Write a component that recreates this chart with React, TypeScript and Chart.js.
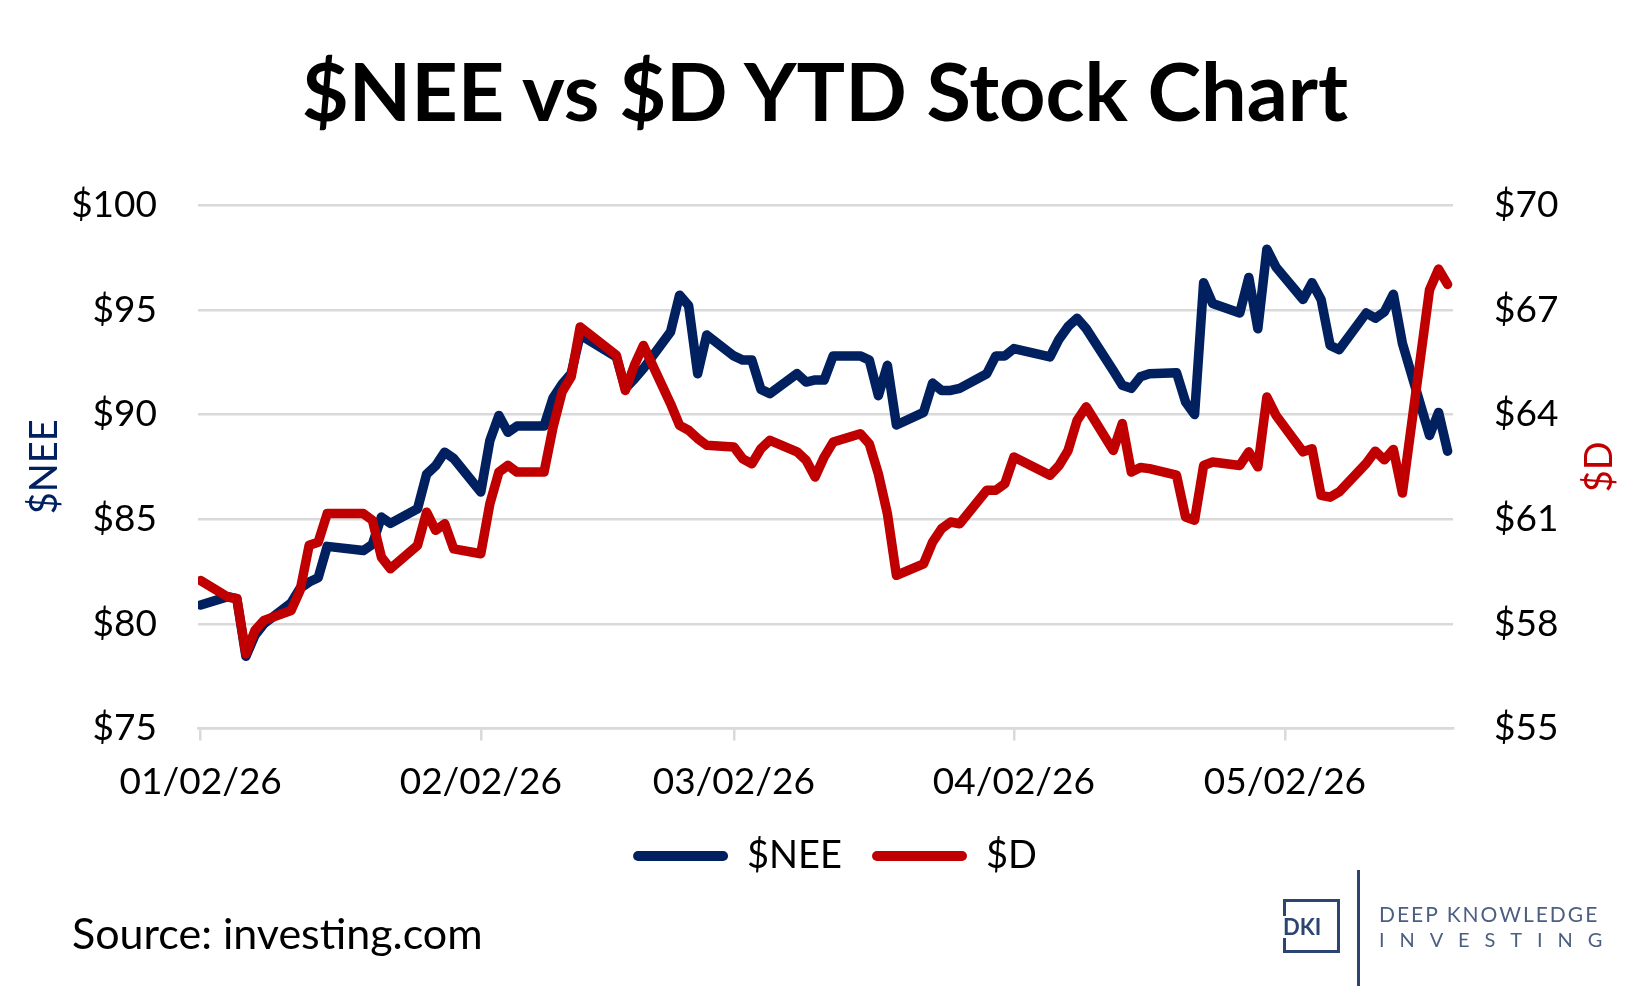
import { useEffect, useRef } from 'react'
import { Chart, registerables } from 'chart.js'
import type { Plugin } from 'chart.js'

Chart.register(...registerables)

const NAVY = '#002060'
const RED = '#C00000'
const GRID = '#D9D9D9'
const FONT = 'Lato, "Open Sans", sans-serif'

// trading days, 2026 YTD
const dates = [
  '2026-01-02', '2026-01-05', '2026-01-06', '2026-01-07', '2026-01-08', '2026-01-09',
  '2026-01-12', '2026-01-13', '2026-01-14', '2026-01-15', '2026-01-16',
  '2026-01-20', '2026-01-21', '2026-01-22', '2026-01-23',
  '2026-01-26', '2026-01-27', '2026-01-28', '2026-01-29', '2026-01-30',
  '2026-02-02', '2026-02-03', '2026-02-04', '2026-02-05', '2026-02-06',
  '2026-02-09', '2026-02-10', '2026-02-11', '2026-02-12', '2026-02-13',
  '2026-02-17', '2026-02-18', '2026-02-19', '2026-02-20',
  '2026-02-23', '2026-02-24', '2026-02-25', '2026-02-26', '2026-02-27',
  '2026-03-02', '2026-03-03', '2026-03-04', '2026-03-05', '2026-03-06',
  '2026-03-09', '2026-03-10', '2026-03-11', '2026-03-12', '2026-03-13',
  '2026-03-16', '2026-03-17', '2026-03-18', '2026-03-19', '2026-03-20',
  '2026-03-23', '2026-03-24', '2026-03-25', '2026-03-26', '2026-03-27',
  '2026-03-30', '2026-03-31', '2026-04-01', '2026-04-02',
  '2026-04-06', '2026-04-07', '2026-04-08', '2026-04-09', '2026-04-10',
  '2026-04-13', '2026-04-14', '2026-04-15', '2026-04-16', '2026-04-17',
  '2026-04-20', '2026-04-21', '2026-04-22', '2026-04-23', '2026-04-24',
  '2026-04-27', '2026-04-28', '2026-04-29', '2026-04-30', '2026-05-01',
  '2026-05-04', '2026-05-05', '2026-05-06', '2026-05-07', '2026-05-08',
  '2026-05-11', '2026-05-12', '2026-05-13', '2026-05-14', '2026-05-15',
  '2026-05-18', '2026-05-19', '2026-05-20'
]

const neeClose = [
  80.9, 81.3, 81.2, 78.45, 79.45, 80.0,
  81.0, 81.7, 82.0, 82.2, 83.7,
  83.5, 83.8, 85.1, 84.8,
  85.5, 87.15, 87.55, 88.2, 87.9,
  86.3, 88.75, 89.95, 89.15, 89.45,
  89.45, 90.8, 91.45, 91.95, 93.8,
  92.75, 91.25, 91.7, 92.2,
  93.95, 95.7, 95.2, 91.95, 93.8,
  92.8, 92.6, 92.6, 91.2, 91.0,
  91.95, 91.55, 91.65, 91.65, 92.8,
  92.8, 92.6, 90.9, 92.35, 89.5,
  90.1, 91.5, 91.15, 91.15, 91.25,
  91.95, 92.8, 92.8, 93.15,
  92.75, 93.6, 94.2, 94.6, 94.1,
  92.1, 91.4, 91.25, 91.8, 91.95,
  92.0, 90.6, 90.0, 96.3, 95.3,
  94.85, 96.55, 94.1, 97.9, 97.05,
  95.5, 96.3, 95.5, 93.3, 93.1,
  94.85, 94.6, 94.9, 95.75, 93.4,
  89.0, 90.1, 88.25
]

const dClose = [
  59.24, 58.77, 58.72, 57.14, 57.81, 58.1,
  58.38, 58.96, 60.25, 60.34, 61.16,
  61.16, 60.97, 59.91, 59.58,
  60.25, 61.2, 60.68, 60.87, 60.15,
  60.01, 61.44, 62.35, 62.54, 62.35,
  62.35, 63.64, 64.65, 65.08, 66.51,
  65.7, 64.69, 65.41, 65.98,
  64.31, 63.69, 63.55, 63.31, 63.12,
  63.07, 62.73, 62.59, 63.02, 63.26,
  62.93, 62.69, 62.21, 62.78, 63.21,
  63.45, 63.16, 62.3, 61.16, 59.39,
  59.72, 60.34, 60.73, 60.92, 60.87,
  61.83, 61.83, 62.02, 62.78,
  62.26, 62.54, 62.97, 63.83, 64.22,
  62.97, 63.74, 62.35, 62.48, 62.45,
  62.26, 61.06, 60.97, 62.54, 62.64,
  62.54, 62.93, 62.5, 64.5, 63.98,
  62.93, 63.02, 61.68, 61.63, 61.78,
  62.6, 62.95, 62.7, 63.0, 61.75,
  67.57, 68.17, 67.73
]

const tickDates = ['2026-01-02', '2026-02-02', '2026-03-02', '2026-04-02', '2026-05-02']
const tickLabels = ['01/02/26', '02/02/26', '03/02/26', '04/02/26', '05/02/26']

const neeTicks = [75, 80, 85, 90, 95, 100]
const dTicks = [55, 58, 61, 64, 67, 70]

const DAY_MS = 86400000
const startMs = Date.parse(dates[0])
const dayOf = (d: string) => (Date.parse(d) - startMs) / DAY_MS

// Excel-style right axis title reads bottom to top, Chart.js would rotate it the other way
const rightTitle: Plugin<'line'> = {
  id: 'rightTitle',
  afterDraw(chart) {
    const s = chart.scales.y1
    const { ctx, chartArea } = chart
    ctx.save()
    ctx.translate(s.right - 50, (chartArea.top + chartArea.bottom) / 2)
    ctx.rotate(-Math.PI / 2)
    ctx.font = `38px ${FONT}`
    ctx.fillStyle = RED
    ctx.textAlign = 'center'
    ctx.textBaseline = 'middle'
    ctx.fillText('$D', 0, 0)
    ctx.restore()
  }
}

function StockChart() {
  const canvasRef = useRef<HTMLCanvasElement>(null)

  useEffect(() => {
    const canvas = canvasRef.current
    if (!canvas) return

    const tickFont = { family: FONT, size: 37 }
    const last = dayOf(dates[dates.length - 1])

    const chart = new Chart(canvas, {
      type: 'line',
      data: {
        datasets: [
          {
            label: '$NEE',
            data: dates.map((d, i) => ({ x: dayOf(d), y: neeClose[i] })),
            borderColor: NAVY,
            backgroundColor: NAVY,
            borderWidth: 9.5,
            pointRadius: 0,
            tension: 0,
            borderJoinStyle: 'round',
            borderCapStyle: 'round',
            yAxisID: 'y',
            order: 2
          },
          {
            label: '$D',
            data: dates.map((d, i) => ({ x: dayOf(d), y: dClose[i] })),
            borderColor: RED,
            backgroundColor: RED,
            borderWidth: 9.5,
            pointRadius: 0,
            tension: 0,
            borderJoinStyle: 'round',
            borderCapStyle: 'round',
            yAxisID: 'y1',
            order: 1
          }
        ]
      },
      options: {
        responsive: true,
        maintainAspectRatio: false,
        animation: false,
        events: [],
        // top of the plot comes from the y tick padding, so only the bottom is set here
        layout: { padding: { top: 20, left: 20, right: 0, bottom: 27 } },
        plugins: {
          tooltip: { enabled: false },
          legend: {
            position: 'bottom',
            labels: {
              color: '#000',
              font: { family: FONT, size: 38 },
              boxWidth: 95,
              boxHeight: 10,
              padding: 30,
              useBorderRadius: true,
              borderRadius: 5,
              sort: (a, b) => a.datasetIndex - b.datasetIndex,
              generateLabels: (c) =>
                Chart.defaults.plugins.legend.labels.generateLabels(c).map((l) => ({
                  ...l,
                  lineWidth: 0,
                  fillStyle: l.strokeStyle
                }))
            }
          }
        },
        scales: {
          x: {
            type: 'linear',
            min: -0.3,
            max: last + 0.6,
            afterBuildTicks: (s) => {
              s.ticks = tickDates.map((d) => ({ value: dayOf(d) }))
            },
            afterFit: (s) => {
              s.height = 78.5
            },
            ticks: {
              autoSkip: false,
              maxRotation: 0,
              color: '#000',
              font: tickFont,
              padding: 19,
              callback: (_v, i) => tickLabels[i]
            },
            grid: {
              drawOnChartArea: false,
              drawTicks: true,
              tickLength: 12,
              color: GRID,
              lineWidth: 2.5
            },
            border: { display: true, color: GRID, width: 2.5 }
          },
          y: {
            position: 'left',
            min: neeTicks[0],
            max: neeTicks[neeTicks.length - 1],
            afterFit: (s) => {
              s.width = 178
            },
            ticks: {
              stepSize: 5,
              color: '#000',
              font: tickFont,
              padding: 41,
              callback: (v) => '$' + v
            },
            grid: { color: GRID, lineWidth: 2.5, drawTicks: false },
            border: { display: false },
            title: {
              display: true,
              text: '$NEE',
              color: NAVY,
              font: { family: FONT, size: 38 },
              padding: { top: 2, bottom: 0 }
            }
          },
          y1: {
            position: 'right',
            min: dTicks[0],
            max: dTicks[dTicks.length - 1],
            afterFit: (s) => {
              s.width = 197
            },
            ticks: {
              stepSize: 3,
              color: '#000',
              font: tickFont,
              padding: 41,
              callback: (v) => '$' + v
            },
            grid: { display: false, drawTicks: false },
            border: { display: false }
          }
        }
      },
      plugins: [rightTitle]
    })

    return () => chart.destroy()
  }, [])

  return (
    <div style={{ position: 'absolute', left: 0, top: 141.8, width: 1650, height: 770 }}>
      <canvas ref={canvasRef} />
    </div>
  )
}

function Logo() {
  const dark = '#2B4570'
  return (
    <div style={{ position: 'absolute', left: 1283, top: 870, width: 340, height: 116 }}>
      <div
        style={{
          position: 'absolute', left: 0, top: 29, width: 57, height: 54,
          border: `3px solid ${dark}`, boxSizing: 'border-box'
        }}
      />
      <div
        style={{
          position: 'absolute', left: 0, top: 46, background: '#fff', color: dark,
          font: `bold 22px ${FONT}`, lineHeight: '22px', paddingRight: 1
        }}
      >
        DKI
      </div>
      <div style={{ position: 'absolute', left: 74, top: 0, width: 3, height: 116, background: dark }} />
      <div
        style={{
          position: 'absolute', left: 96, top: 33, color: '#4B5F82', whiteSpace: 'nowrap',
          font: `21px ${FONT}`, lineHeight: '21px', letterSpacing: '2px'
        }}
      >
        DEEP KNOWLEDGE
      </div>
      <div
        style={{
          position: 'absolute', left: 96, top: 59, color: '#4B5F82', whiteSpace: 'nowrap',
          font: `20px ${FONT}`, lineHeight: '20px', letterSpacing: '14.9px'
        }}
      >
        INVESTING
      </div>
    </div>
  )
}

export default function App() {
  return (
    <div
      style={{
        position: 'absolute', left: 0, top: 0, width: 1650, height: 996,
        background: '#fff', fontFamily: FONT, color: '#000', overflow: 'hidden'
      }}
    >
      <div
        style={{
          position: 'absolute', left: 0, top: 49, width: 1650, textAlign: 'center',
          font: `bold 81px ${FONT}`, lineHeight: '81px'
        }}
      >
        $NEE vs $D YTD Stock Chart
      </div>
      <StockChart />
      <div
        style={{
          position: 'absolute', left: 72, top: 911, whiteSpace: 'nowrap',
          font: `43px ${FONT}`, lineHeight: '43px'
        }}
      >
        Source: investing.com
      </div>
      <Logo />
    </div>
  )
}
